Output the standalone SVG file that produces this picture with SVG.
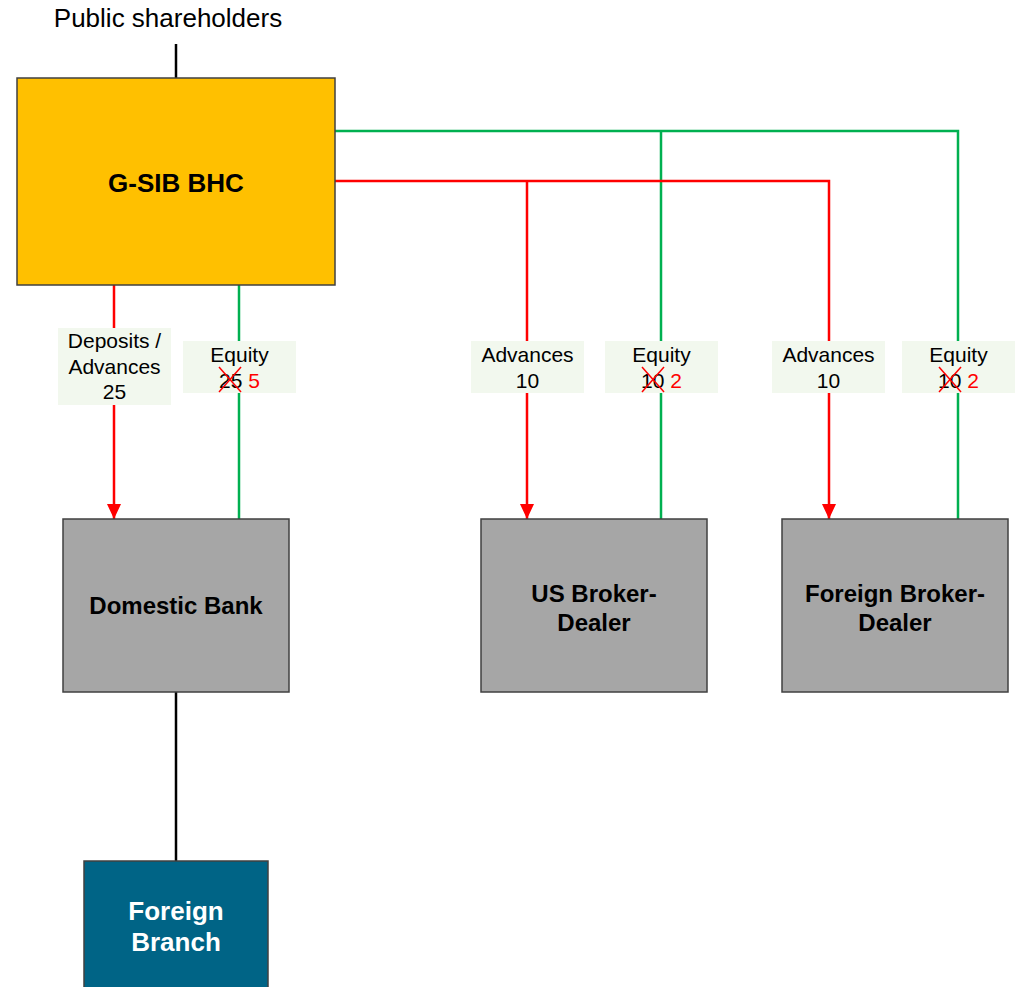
<svg xmlns="http://www.w3.org/2000/svg" width="1017" height="987" viewBox="0 0 1017 987">
<defs>
<style>
.box{stroke:#404040;stroke-width:1.5}
.red{stroke:#FF0000;stroke-width:2.5;fill:none}
.grn{stroke:#00B050;stroke-width:2.5;fill:none}
.blk{stroke:#000;stroke-width:2.5;fill:none}
.lbl{fill:#F2F8EE}
.t{font-family:"Liberation Sans",Arial,sans-serif;font-size:21px;fill:#000;text-anchor:middle}
.b{font-family:"Liberation Sans",Arial,sans-serif;font-weight:bold;font-size:24px;fill:#000;text-anchor:middle}
.x{stroke:#FF0000;stroke-width:1.5}
</style>
<marker id="arr" markerWidth="15" markerHeight="14" refX="15" refY="7" orient="auto" markerUnits="userSpaceOnUse" viewBox="0 0 15 14">
<path d="M0,0 L15,7 L0,14 Z" fill="#FF0000"/>
</marker>
</defs>
<rect width="1017" height="987" fill="#fff"/>
<g id="connectors">
<line class="blk" x1="176" y1="44" x2="176" y2="78"/>
<line class="blk" x1="176" y1="692" x2="176" y2="861"/>
<line class="red" x1="114" y1="285" x2="114" y2="519" marker-end="url(#arr)"/>
<line class="grn" x1="239" y1="285" x2="239" y2="519"/>
<polyline class="grn" points="335,131 958,131 958,519"/>
<line class="grn" x1="661" y1="131" x2="661" y2="519"/>
<polyline class="red" points="335,181 829,181 829,519" marker-end="url(#arr)"/>
<line class="red" x1="527" y1="181" x2="527" y2="519" marker-end="url(#arr)"/>
</g>
<g id="public-shareholders">
<text class="t" x="168" y="27" style="font-size:26px">Public shareholders</text>
</g>
<g id="gsib-bhc">
<rect class="box" x="17" y="78" width="318" height="207" fill="#FFC000"/>
<text class="b" x="176" y="192" style="font-size:26px">G-SIB BHC</text>
</g>
<g id="domestic-bank">
<rect class="box" x="63" y="519" width="226" height="173" fill="#A6A6A6"/>
<text class="b" x="176" y="614">Domestic Bank</text>
</g>
<g id="us-broker-dealer">
<rect class="box" x="481" y="519" width="226" height="173" fill="#A6A6A6"/>
<text class="b" x="594" y="602">US Broker-</text>
<text class="b" x="594" y="631">Dealer</text>
</g>
<g id="foreign-broker-dealer">
<rect class="box" x="782" y="519" width="226" height="173" fill="#A6A6A6"/>
<text class="b" x="895" y="602">Foreign Broker-</text>
<text class="b" x="895" y="631">Dealer</text>
</g>
<g id="foreign-branch">
<rect class="box" x="84" y="861" width="184" height="130" fill="#006486"/>
<text class="b" x="176" y="920" style="font-size:26px;fill:#fff">Foreign</text>
<text class="b" x="176" y="951" style="font-size:26px;fill:#fff">Branch</text>
</g>
<g id="label-deposits">
<rect class="lbl" x="58" y="328" width="113" height="77"/>
<text class="t" x="114.5" y="348">Deposits /</text>
<text class="t" x="114.5" y="374">Advances</text>
<text class="t" x="114.5" y="399">25</text>
</g>
<g id="label-equity-bank">
<rect class="lbl" x="183" y="341" width="113" height="52"/>
<text class="t" x="239.5" y="362">Equity</text>
<text class="t" x="239.5" y="388">25<tspan fill="#FF0000"> 5</tspan></text>
<line class="x" x1="219" y1="367" x2="241" y2="392"/>
<line class="x" x1="241" y1="367" x2="219" y2="392"/>
</g>
<g id="label-advances-us">
<rect class="lbl" x="471" y="341" width="113" height="52"/>
<text class="t" x="527.5" y="362">Advances</text>
<text class="t" x="527.5" y="388">10</text>
</g>
<g id="label-equity-us">
<rect class="lbl" x="605" y="341" width="113" height="52"/>
<text class="t" x="661.5" y="362">Equity</text>
<text class="t" x="661.5" y="388">10<tspan fill="#FF0000"> 2</tspan></text>
<line class="x" x1="642" y1="367" x2="664" y2="392"/>
<line class="x" x1="664" y1="367" x2="642" y2="392"/>
</g>
<g id="label-advances-foreign">
<rect class="lbl" x="772" y="341" width="113" height="52"/>
<text class="t" x="828.5" y="362">Advances</text>
<text class="t" x="828.5" y="388">10</text>
</g>
<g id="label-equity-foreign">
<rect class="lbl" x="902" y="341" width="113" height="52"/>
<text class="t" x="958.5" y="362">Equity</text>
<text class="t" x="958.5" y="388">10<tspan fill="#FF0000"> 2</tspan></text>
<line class="x" x1="939" y1="367" x2="961" y2="392"/>
<line class="x" x1="961" y1="367" x2="939" y2="392"/>
</g>
</svg>
